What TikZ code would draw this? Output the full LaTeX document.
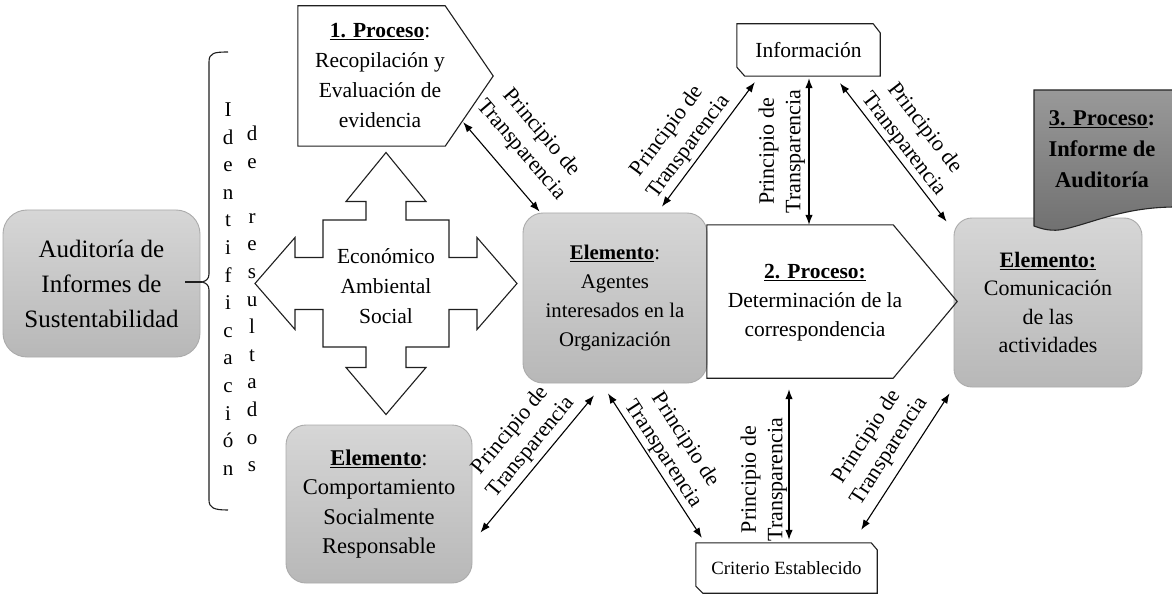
\documentclass[tikz,border=0pt]{standalone}
\usepackage{fontspec}
\setmainfont{Liberation Serif}
\usetikzlibrary{arrows.meta,calc}
\begin{document}
\begin{tikzpicture}[x=1pt,y=-1pt,
  shp/.style={draw=black!88, line width=1.1pt},
  gbox/.style={draw=black!33, line width=0.9pt, rounded corners=20pt, top color=black!16, bottom color=black!28, align=center, inner sep=0pt},
  txt/.style={align=center, inner sep=0pt},
  dbl/.style={{Latex[length=10pt,width=7.5pt]}-{Latex[length=10pt,width=7.5pt]}, line width=1.1pt},
  lbl/.style={sloped, align=center, inner sep=1.5pt, font=\fontsize{22}{26.5}\selectfont},
]
\useasboundingbox[fill=white] (0,0) rectangle (1172,596);

% left box and brace
\node[gbox, minimum width=197pt, minimum height=147pt, rounded corners=24pt, font=\fontsize{25}{35}\selectfont] (aud) at (101.5,283.5) {Auditoría de\\Informes de\\Sustentabilidad};
\coordinate (bt) at (202,282);
\draw[shp] (228,52) .. controls (214,52) and (209,53) .. (209,62) -- (209,274) .. controls (209,279) and (206,281) .. (bt) .. controls (206,283) and (209,285) .. (209,290) -- (209,500) .. controls (209,508) and (214,510) .. (228,510);
\draw[shp] ($(aud.east)+(-15,-1.5)$) -- (bt);
\node[txt, font=\fontsize{21}{27.6}\selectfont] (idA) at (228,289) {I\\d\\e\\n\\t\\i\\f\\i\\c\\a\\c\\i\\ó\\n};
\node[txt, font=\fontsize{21}{27.6}\selectfont] (idB) at (252,299) {d\\e\\\mbox{}\\r\\e\\s\\u\\l\\t\\a\\d\\o\\s};

% four-way arrow
\begin{scope}[shift={(386,283.5)}]
\draw[shp] (0,-131) -- (40,-82) -- (20,-82) -- (20,-63.5) -- (63,-63.5) -- (63,-26) -- (91,-26) -- (91,-46) -- (131,0) -- (91,46) -- (91,26) -- (63,26) -- (63,63.5) -- (20,63.5) -- (20,84) -- (40,84) -- (0,131) -- (-40,84) -- (-20,84) -- (-20,63.5) -- (-63,63.5) -- (-63,26) -- (-91,26) -- (-91,46) -- (-131,0) -- (-91,-46) -- (-91,-26) -- (-63,-26) -- (-63,-63.5) -- (-20,-63.5) -- (-20,-82) -- (-40,-82) -- cycle;
\end{scope}
\node[txt, font=\fontsize{21.5}{30}\selectfont] (eco) at (386,286) {Económico\\Ambiental\\Social};

% 1. Proceso
\node[txt, minimum width=147pt, minimum height=140pt] (p1) at (371.5,76) {};
\draw[shp] (p1.north west) -- (p1.north east) -- ($(p1.east)+(48,0)$) -- (p1.south east) -- (p1.south west) -- cycle;
\node[txt, font=\fontsize{21.5}{30}\selectfont] (p1t) at (380,76) {\underline{\textbf{1. Proceso}}:\\Recopilación y\\Evaluación de\\evidencia};

% gray element boxes
\node[gbox, minimum width=186pt, minimum height=158pt, font=\fontsize{22.5}{29.5}\selectfont] (comp) at (379,504) {\underline{\textbf{Elemento}}:\\Comportamiento\\Socialmente\\Responsable};
\node[gbox, minimum width=184pt, minimum height=170pt, font=\fontsize{20.8}{29}\selectfont] (agen) at (615,298) {\underline{\textbf{Elemento}}:\\Agentes\\interesados en la\\Organización};
\node[gbox, minimum width=188pt, minimum height=169pt, rounded corners=18pt, font=\fontsize{22}{28.5}\selectfont] (comu) at (1048,302.5) {\underline{\textbf{Elemento:}}\\Comunicación\\de las\\actividades};

% 3. Proceso document shape
\draw[draw=black!85, line width=1.1pt, top color=black!40, bottom color=black!56] (1034,90) -- (1176,90) -- (1176,207) .. controls (1125,207) and (1095,222) .. (1065,229) .. controls (1052,232) and (1042,229) .. (1034,226) -- cycle;
\node[txt, font=\fontsize{22.5}{31}\selectfont] (p3) at (1102,149) {\textbf{\underline{3. Proceso}:}\\\textbf{Informe de}\\\textbf{Auditoría}};

% 2. Proceso
\node[txt, minimum width=186pt, minimum height=153pt] (p2) at (800,301.5) {};
\draw[shp] (p2.north west) -- (p2.north east) -- ($(p2.east)+(64,0)$) -- (p2.south east) -- (p2.south west) -- cycle;
\node[txt, font=\fontsize{21.5}{29}\selectfont] (p2t) at (815,303) {\underline{\textbf{2. Proceso:}}\\Determinación de la\\correspondencia};

% Información
\node[txt, minimum width=143pt, minimum height=52pt, font=\fontsize{21.5}{26}\selectfont] (info) at (808.5,50) {Información};
\draw[shp] (info.north west) -- ($(info.north east)+(-7,0)$) -- ($(info.north east)+(0,9)$) -- (info.south east) -- ($(info.south west)+(8,0)$) -- ($(info.south west)+(0,-9)$) -- cycle;

% Criterio Establecido
\node[txt, minimum width=181pt, minimum height=50pt, font=\fontsize{18.7}{24}\selectfont] (crit) at (786.5,568) {Criterio Establecido};
\draw[shp] (crit.north west) -- ($(crit.north east)+(-6,0)$) -- ($(crit.north east)+(0,7)$) -- (crit.south east) -- ($(crit.south west)+(7,0)$) -- ($(crit.south west)+(0,-7)$) -- cycle;

% connectors
\draw[dbl] ($(p1.south east)+(18,-24)$) -- node[lbl, above=14pt] {Principio de\\Transparencia} ($(agen.north west)+(17,-1)$);
\draw[dbl] ($(agen.north)+(47,-6)$) -- node[lbl, above=2pt, pos=.41] {Principio de\\Transparencia} ($(info.south west)+(18,6)$);
\draw[dbl] ($(p2.north)+(9,0)$) -- node[lbl, above=2pt] {Principio de\\Transparencia} ($(info.south)+(0.5,2)$);
\draw[dbl] ($(info.south)+(31.5,7)$) -- node[lbl, above=1pt] {Principio de\\Transparencia} ($(comu.north west)+(-7,4)$);
\draw[dbl] ($(comp.north east)+(8,108)$) -- node[lbl, above=3pt, pos=.55] {Principio de\\Transparencia} ($(agen.south)+(-21,12)$);
\draw[dbl] ($(agen.south)+(-7,10)$) -- node[lbl, above=1pt, pos=.47] {Principio de\\Transparencia} ($(crit.north west)+(6,-5)$);
\draw[dbl] ($(crit.north)+(2.5,-3)$) -- node[lbl, above=0pt, pos=.4] {Principio de\\Transparencia} ($(p2.south)+(-11,11)$);
\draw[dbl] ($(crit.north east)+(-16,-13)$) -- node[lbl, above=7pt] {Principio de\\Transparencia} ($(comu.south west)+(-4,6)$);
\end{tikzpicture}
\end{document}
